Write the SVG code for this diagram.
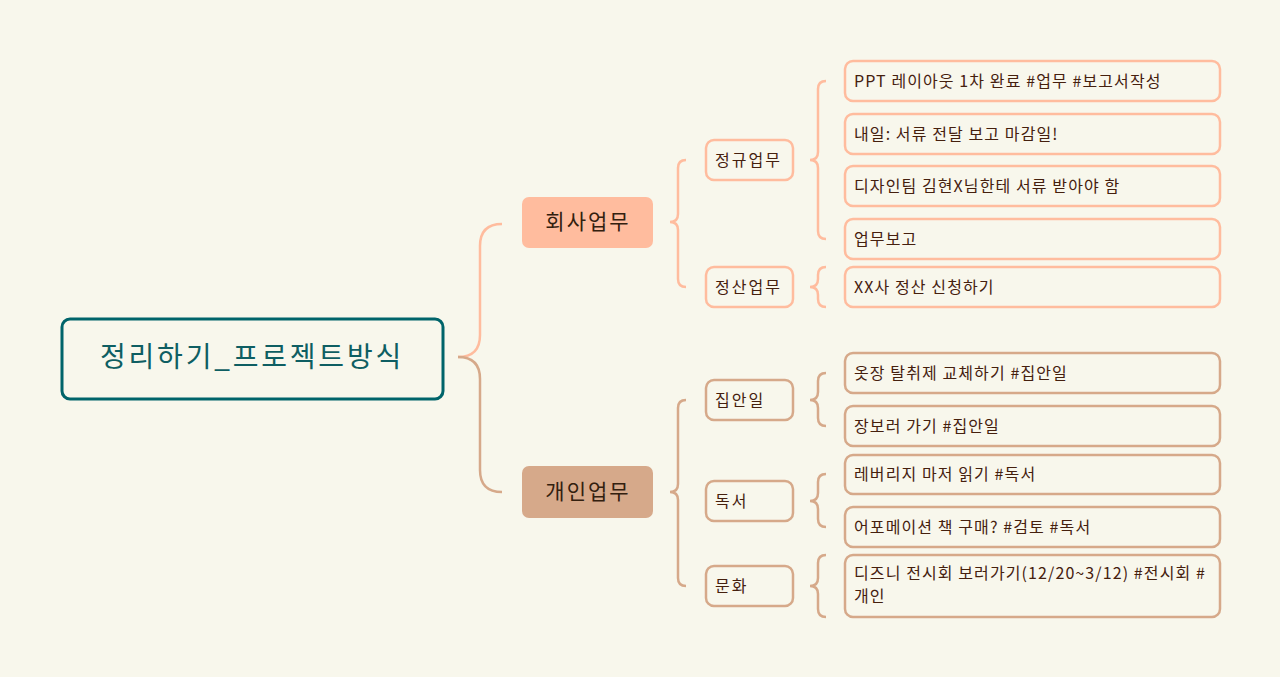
<svg xmlns="http://www.w3.org/2000/svg" width="1280" height="677" viewBox="0 0 1280 677">
<style>
text{font-family:"Noto Sans CJK KR","Noto Sans",sans-serif;}
.leafA{fill:none;stroke:#FFBC9E;stroke-width:2.5;}
.leafB{fill:none;stroke:#D6A98A;stroke-width:2.5;}
.t{font-size:16px;fill:#45200E;letter-spacing:1.1px;}
.c{font-size:16px;fill:#45200E;letter-spacing:2px;}
.m{font-size:21px;fill:#33200F;text-anchor:middle;letter-spacing:2px;}
.cA{fill:none;stroke:#FFBC9E;stroke-width:2.5;}
.cB{fill:none;stroke:#D6A98A;stroke-width:2.5;}
</style>
<rect width="1280" height="677" fill="#F8F7EC"/>
<g id="connectors">
<path class="cA" d="M458,357 Q480,357 480,335 L480,246 Q480,224 502,224"/>
<path class="cB" d="M458,357 Q480,357 480,379 L480,470 Q480,492 502,492"/>
<path class="cA" d="M686,160 Q678,160 678,168 L678,214 Q678,222 670,222 Q678,222 678,230 L678,279 Q678,287 686,287"/>
<path class="cB" d="M686,400 Q678,400 678,408 L678,484 Q678,492 670,492 Q678,492 678,500 L678,578 Q678,586 686,586"/>
<path class="cA" d="M826,81 Q818,81 818,89 L818,152 Q818,160 810,160 Q818,160 818,168 L818,231 Q818,239 826,239"/>
<path class="cA" d="M826,267 Q818,267 818,275 L818,279 Q818,287 810,287 Q818,287 818,295 L818,299 Q818,307 826,307"/>
<path class="cB" d="M826,373 Q818,373 818,381 L818,392 Q818,400 810,400 Q818,400 818,408 L818,418 Q818,426 826,426"/>
<path class="cB" d="M826,474 Q818,474 818,482 L818,493 Q818,501 810,501 Q818,501 818,509 L818,519 Q818,527 826,527"/>
<path class="cB" d="M826,555 Q818,555 818,563 L818,578 Q818,586 810,586 Q818,586 818,594 L818,609 Q818,617 826,617"/>
</g>
<g id="root">
<rect x="62" y="319" width="381" height="80" rx="8" fill="none" stroke="#00646A" stroke-width="3"/>
<text x="252" y="367" font-size="28" fill="#0E5E62" text-anchor="middle" letter-spacing="2.8">정리하기_프로젝트방식</text>
</g>
<g id="company">
<rect x="522" y="197" width="131" height="51" rx="7" fill="#FFBC9E"/>
<text class="m" x="588" y="229">회사업무</text>
</g>
<g id="personal">
<rect x="522" y="466" width="131" height="52" rx="7" fill="#D6A98A"/>
<text class="m" x="588" y="499">개인업무</text>
</g>
<g id="regular">
<rect class="leafA" x="706" y="140" width="87" height="40" rx="8"/>
<text class="c" x="715" y="166">정규업무</text>
</g>
<g id="settle">
<rect class="leafA" x="706" y="267" width="87" height="40" rx="8"/>
<text class="c" x="715" y="293">정산업무</text>
</g>
<g id="ppt">
<rect class="leafA" x="845" y="61" width="375" height="40" rx="8"/>
<text class="t" x="854" y="87">PPT 레이아웃 1차 완료 #업무 #보고서작성</text>
</g>
<g id="tomorrow">
<rect class="leafA" x="845" y="114" width="375" height="40" rx="8"/>
<text class="t" x="854" y="140">내일: 서류 전달 보고 마감일!</text>
</g>
<g id="design">
<rect class="leafA" x="845" y="166" width="375" height="40" rx="8"/>
<text class="t" x="854" y="192">디자인팀 김현X님한테 서류 받아야 함</text>
</g>
<g id="report">
<rect class="leafA" x="845" y="219" width="375" height="40" rx="8"/>
<text class="t" x="854" y="245">업무보고</text>
</g>
<g id="xx">
<rect class="leafA" x="845" y="267" width="375" height="40" rx="8"/>
<text class="t" x="854" y="293">XX사 정산 신청하기</text>
</g>
<g id="house">
<rect class="leafB" x="706" y="380" width="87" height="40" rx="8"/>
<text class="c" x="715" y="406">집안일</text>
</g>
<g id="reading">
<rect class="leafB" x="706" y="481" width="87" height="40" rx="8"/>
<text class="c" x="715" y="507">독서</text>
</g>
<g id="culture">
<rect class="leafB" x="706" y="566" width="87" height="40" rx="8"/>
<text class="c" x="715" y="592">문화</text>
</g>
<g id="closet">
<rect class="leafB" x="845" y="353" width="375" height="40" rx="8"/>
<text class="t" x="854" y="379">옷장 탈취제 교체하기 #집안일</text>
</g>
<g id="shopping">
<rect class="leafB" x="845" y="406" width="375" height="40" rx="8"/>
<text class="t" x="854" y="432">장보러 가기 #집안일</text>
</g>
<g id="leverage">
<rect class="leafB" x="845" y="455" width="375" height="39" rx="8"/>
<text class="t" x="854" y="480">레버리지 마저 읽기 #독서</text>
</g>
<g id="affirm">
<rect class="leafB" x="845" y="507" width="375" height="40" rx="8"/>
<text class="t" x="854" y="533">어포메이션 책 구매? #검토 #독서</text>
</g>
<g id="disney">
<rect class="leafB" x="845" y="555" width="375" height="62" rx="8"/>
<text class="t" x="854" y="579">디즈니 전시회 보러가기(12/20~3/12) #전시회 #</text>
<text class="t" x="854" y="602">개인</text>
</g>
</svg>
